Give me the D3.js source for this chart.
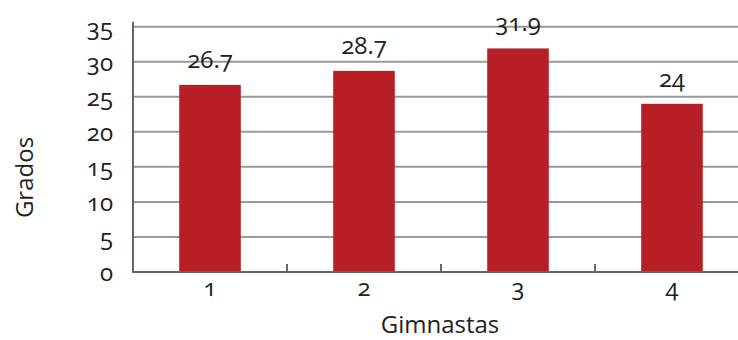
<!DOCTYPE html>
<html>
<head>
<meta charset="utf-8">
<script src="https://cdn.jsdelivr.net/npm/d3@7"></script>
<style>
  html, body { margin: 0; padding: 0; background: #fff; }
  svg { display: block; }
  text { font-family: "Open Sans", Lato, sans-serif; fill: #222; font-variant-numeric: oldstyle-nums; font-feature-settings: "onum" 1; }
</style>
</head>
<body>
<svg id="chart" width="738" height="340"></svg>
<script>
const categories = ["1", "2", "3", "4"];
const values = [26.7, 28.7, 31.9, 24];
const yTicks = [0, 5, 10, 15, 20, 25, 30, 35];
const yTitle = "Grados";
const xTitle = "Gimnastas";

const svg = d3.select("#chart");
const mLeft = 133, mRight = 749, mTop = 26.7, mBottom = 272;

const x = d3.scaleBand().domain(categories).range([mLeft, mRight]).paddingInner(0.6).paddingOuter(0.3);
const y = d3.scaleLinear().domain([0, 35]).range([mBottom, mTop]);

// gridlines
svg.append("g").selectAll("line").data(yTicks.filter(d => d > 0)).join("line")
  .attr("x1", mLeft).attr("x2", mRight)
  .attr("y1", d => y(d)).attr("y2", d => y(d))
  .attr("stroke", "#999").attr("stroke-width", 2);

// bars
svg.append("g").selectAll("rect").data(values).join("rect")
  .attr("x", (d, i) => x(categories[i]))
  .attr("width", x.bandwidth())
  .attr("y", d => y(d))
  .attr("height", d => y(0) - y(d))
  .attr("fill", "#b81e25");

// y axis
const yAxis = d3.axisLeft(y).tickValues(yTicks).tickSize(0).tickPadding(20).tickFormat(d3.format("d"));
const gy = svg.append("g").attr("transform", `translate(${mLeft},0)`).call(yAxis);
gy.attr("font-family", null).attr("font-size", null);
gy.select(".domain").remove();
gy.selectAll("text").attr("font-size", 24).attr("dy", "0.36em").attr("fill", "#222");
svg.append("line").attr("x1", mLeft).attr("x2", mLeft).attr("y1", mTop - 5).attr("y2", mBottom + 1)
  .attr("stroke", "#666").attr("stroke-width", 2);

// x axis
const boundaries = categories.map(c => x(c) - x.step() * x.paddingInner() / 2).slice(1);
svg.append("g").selectAll("line").data(boundaries).join("line")
  .attr("x1", d => d).attr("x2", d => d).attr("y1", mBottom).attr("y2", mBottom - 8)
  .attr("stroke", "#666").attr("stroke-width", 2);
svg.append("line").attr("x1", mLeft - 1).attr("x2", mRight).attr("y1", mBottom).attr("y2", mBottom)
  .attr("stroke", "#666").attr("stroke-width", 2);
svg.append("g").selectAll("text").data(categories).join("text")
  .attr("x", d => x(d) + x.bandwidth() / 2)
  .attr("y", mBottom + 24)
  .attr("text-anchor", "middle")
  .attr("font-size", 24)
  .text(d => d);

// value labels
svg.append("g").selectAll("text").data(values).join("text")
  .attr("x", (d, i) => x(categories[i]) + x.bandwidth() / 2)
  .attr("y", d => y(d) - 17)
  .attr("text-anchor", "middle")
  .attr("font-size", 24)
  .text(d => String(d));

// titles
svg.append("text").attr("x", 440).attr("y", 333).attr("text-anchor", "middle")
  .attr("font-size", 24).text(xTitle);
svg.append("text").attr("transform", "translate(33,177.5) rotate(-90)").attr("text-anchor", "middle")
  .attr("font-size", 24).text(yTitle);
</script>
</body>
</html>
